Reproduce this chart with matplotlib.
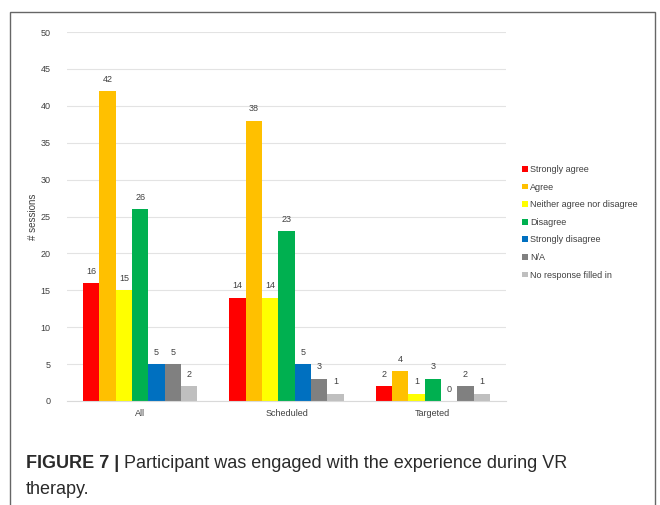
import numpy as np
import matplotlib.pyplot as plt
from matplotlib.patches import Rectangle

plt.rcParams['font.family'] = ['Liberation Sans', 'DejaVu Sans']

# data
groups = ['All', 'Scheduled', 'Targeted']
responses = ['Strongly agree', 'Agree', 'Neither agree nor disagree', 'Disagree',
             'Strongly disagree', 'N/A', 'No response filled in']
strongly_agree = [16, 14, 2]
agree = [42, 38, 4]
neither = [15, 14, 1]
disagree = [26, 23, 3]
strongly_disagree = [5, 5, 0]
na = [5, 3, 2]
no_response = [2, 1, 1]
series = [strongly_agree, agree, neither, disagree, strongly_disagree, na, no_response]
colors = ['#FF0000', '#FFC000', '#FFFF00', '#00B050', '#0070C0', '#808080', '#BFBFBF']

W, H = 660, 505
fig = plt.figure(figsize=(W / 100, H / 100), dpi=100)

# outer frame (left, top, right edges)
fig.add_artist(Rectangle((10 / W, -0.05), 645 / W, 1.05 - 12 / H,
                         transform=fig.transFigure, fill=False,
                         edgecolor='#666666', linewidth=1.0))

ax = fig.add_axes([67 / W, 1 - 401 / H, 439 / W, 369 / H])

x = np.arange(len(groups))
bw = 0.78 / len(series)
for i, (vals, c, name) in enumerate(zip(series, colors, responses)):
    pos = x - 0.39 + bw * (i + 0.5)
    ax.bar(pos, vals, width=bw, color=c, label=name, zorder=2)
    for p, v in zip(pos, vals):
        ax.text(p, v + 1.0, str(v), ha='center', va='bottom', fontsize=6.5, color='#404040')

ax.set_xlim(-0.5, 2.5)
ax.set_ylim(0, 50)
ax.set_yticks(range(0, 51, 5))
ax.set_xticks(x)
ax.set_xticklabels(groups)
ax.tick_params(axis='both', length=0, labelsize=6.5, colors='#404040')
ax.tick_params(axis='x', pad=6)
ax.tick_params(axis='y', pad=12)
ax.grid(axis='y', color='#E3E3E3', linewidth=0.8, zorder=0)
for s in ['top', 'right', 'left']:
    ax.spines[s].set_visible(False)
ax.spines['bottom'].set_color('#D9D9D9')
ax.set_ylabel('# sessions', fontsize=7, color='#404040', labelpad=2)

ax.legend(loc='upper left', bbox_to_anchor=(514 / W, 1 - 157 / H),
          bbox_transform=fig.transFigure, frameon=False, fontsize=6.5,
          handlelength=0.6, handleheight=0.6, handletextpad=0.3,
          labelspacing=0.95, labelcolor='#404040')

# caption
fig.text(26 / W, 1 - 463 / H, 'FIGURE 7 |', fontsize=13, fontweight='bold',
         ha='left', va='center', color='#2a2a2a')
fig.text(124 / W, 1 - 463 / H, 'Participant was engaged with the experience during VR',
         fontsize=13, ha='left', va='center', color='#2a2a2a')
fig.text(26 / W, 1 - 490 / H, 'therapy.', fontsize=13, ha='left', va='center',
         color='#2a2a2a')

fig.savefig('out.png', dpi=100)
